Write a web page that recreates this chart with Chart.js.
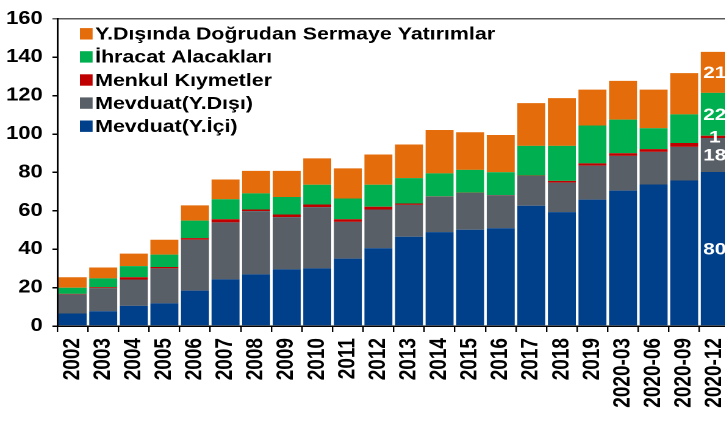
<!DOCTYPE html>
<html>
<head>
<meta charset="utf-8">
<script src="https://cdn.jsdelivr.net/npm/chart.js@4"></script>
<style>
  html, body { margin: 0; padding: 0; background: #fff; overflow: hidden; }
  /* the original picture is wider than its fonts: draw narrow, then stretch */
  #wrap { width: 600px; height: 421px; transform: scaleX(1.22); transform-origin: 0 0; }
</style>
</head>
<body>
<div id="wrap"><canvas id="chart"></canvas></div>
<script>
// Categories
const periods = ['2002', '2003', '2004', '2005', '2006', '2007', '2008', '2009', '2010', '2011',
    '2012', '2013', '2014', '2015', '2016', '2017', '2018', '2019',
    '2020-03', '2020-06', '2020-09', '2020-12'];

// Series values (bottom of the stack first)
const mevduatIci   = [6.5, 7.7, 10.5, 11.8, 18.4, 24.3, 26.9, 29.5, 30.0, 35.1, 40.5, 46.5, 48.9, 50.1, 50.9, 62.6, 59.3, 65.8, 70.5, 73.7, 75.8, 80.2];
const mevduatDisi  = [10.0, 12.0, 13.7, 18.2, 26.5, 29.7, 32.9, 27.2, 31.9, 19.1, 20.2, 16.6, 18.5, 19.2, 17.2, 15.5, 15.4, 17.7, 18.1, 17.0, 17.5, 17.7];
const menkul       = [0.2, 0.5, 1.2, 0.7, 0.9, 1.6, 0.9, 1.4, 1.4, 1.4, 1.4, 0.7, 0.1, 0.1, 0.1, 0.2, 0.9, 1.2, 1.4, 1.4, 2.0, 1.2];
const ihracat      = [3.2, 4.6, 5.8, 6.5, 9.1, 10.4, 8.4, 9.1, 10.3, 10.8, 11.5, 13.2, 12.0, 11.9, 11.9, 15.5, 18.2, 19.7, 17.5, 10.9, 14.9, 22.3];
const dogrudan     = [5.5, 5.7, 6.5, 7.7, 7.9, 10.3, 11.7, 13.6, 13.7, 15.7, 15.7, 17.5, 22.6, 19.6, 19.4, 22.3, 24.9, 18.7, 20.2, 20.1, 21.5, 21.4];

// Y axis
const yMin = 0;
const yMax = 160;
const yStep = 20;

const fontFamily = "'Liberation Sans', Arial, sans-serif";

// Legend drawn inside the plot, top-left, top item = top of the stack
const insideLegend = {
    id: 'insideLegend',
    afterDraw(chart) {
        const ctx = chart.ctx;
        const area = chart.chartArea;
        const items = chart.data.datasets.slice().reverse();
        ctx.save();
        ctx.font = `bold 17.5px ${fontFamily}`;
        ctx.textBaseline = 'middle';
        items.forEach((ds, i) => {
            const y = area.top + 15 + i * 23.1;
            ctx.fillStyle = ds.backgroundColor;
            ctx.fillRect(area.left + 18.5, y - 5.7, 10.4, 11.4);
            ctx.fillStyle = '#000';
            ctx.fillText(ds.label, area.left + 31, y + 1);
        });
        ctx.restore();
    }
};

// White value labels on the last bar only
const lastBarLabels = {
    id: 'lastBarLabels',
    afterDatasetsDraw(chart) {
        const ctx = chart.ctx;
        ctx.save();
        ctx.font = `bold 17px ${fontFamily}`;
        ctx.fillStyle = '#fff';
        ctx.textAlign = 'center';
        ctx.textBaseline = 'middle';
        chart.data.datasets.forEach((ds, i) => {
            const meta = chart.getDatasetMeta(i);
            const last = meta.data.length - 1;
            const bar = meta.data[last];
            const { x, y, base } = bar.getProps(['x', 'y', 'base'], true);
            ctx.fillText(Math.round(ds.data[last]), x, (y + base) / 2 + 1);
        });
        ctx.restore();
    }
};

new Chart(document.getElementById('chart'), {
    type: 'bar',
    data: {
        labels: periods,
        datasets: [
            { label: 'Mevduat(Y.İçi)', data: mevduatIci, backgroundColor: '#00408A' },
            { label: 'Mevduat(Y.Dışı)', data: mevduatDisi, backgroundColor: '#595F67' },
            { label: 'Menkul Kıymetler', data: menkul, backgroundColor: '#C00000' },
            { label: 'İhracat Alacakları', data: ihracat, backgroundColor: '#00B050' },
            { label: 'Y.Dışında Doğrudan Sermaye Yatırımlar', data: dogrudan, backgroundColor: '#E46C0A' }
        ]
    },
    options: {
        responsive: true,
        maintainAspectRatio: false,
        animation: false,
        devicePixelRatio: 2,
        layout: { padding: { top: 13, right: 1.6, left: 0, bottom: 0 } },
        datasets: { bar: { categoryPercentage: 1, barPercentage: 0.915, borderWidth: 0 } },
        plugins: {
            legend: { display: false },
            tooltip: { enabled: false }
        },
        scales: {
            x: {
                stacked: true,
                grid: { offset: true, drawOnChartArea: false, tickLength: 6, tickColor: '#000', lineWidth: 1.2 },
                border: { color: '#000', width: 1.5 },
                ticks: {
                    color: '#000',
                    font: { family: fontFamily, size: 19, weight: 'bold' },
                    minRotation: 90,
                    maxRotation: 90,
                    autoSkip: false,
                    padding: 6
                },
                afterFit(scale) {
                    scale.height = 95;
                    // the last bar runs off the right edge in the original
                    scale.paddingLeft = 0;
                    scale.paddingRight = 0;
                }
            },
            y: {
                stacked: true,
                min: yMin,
                max: yMax,
                grid: {
                    color: c => (c.tick && c.tick.value === yMax) ? '#5a5a5a' : 'rgba(0,0,0,0)',
                    tickColor: c => (c.tick && c.tick.value === yMax) ? '#5a5a5a' : '#000',
                    tickLength: 4,
                    lineWidth: 1.5
                },
                border: { color: '#000', width: 1.5 },
                ticks: {
                    stepSize: yStep,
                    color: '#000',
                    font: { family: fontFamily, size: 18, weight: 'bold' },
                    padding: 8
                },
                afterFit(scale) { scale.width = 47; }
            }
        }
    },
    plugins: [lastBarLabels, insideLegend]
});
</script>
</body>
</html>
